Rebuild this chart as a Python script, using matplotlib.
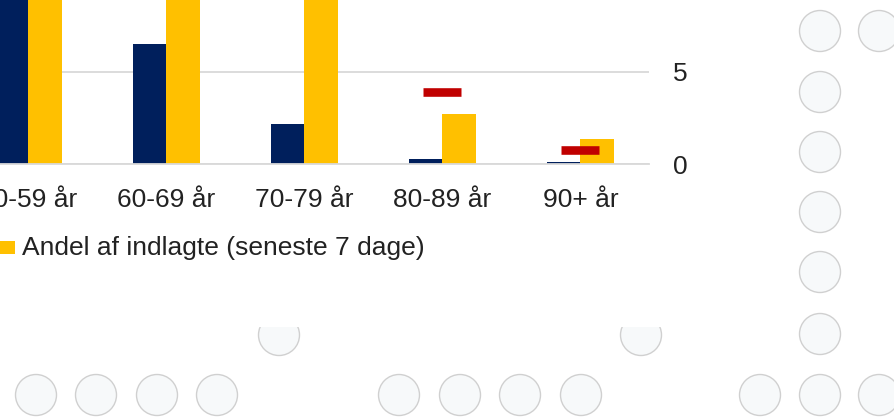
import matplotlib
matplotlib.use("Agg")
import matplotlib.pyplot as plt
from matplotlib.patches import Circle, Rectangle
import numpy as np

plt.rcParams['font.family'] = ['Liberation Sans', 'DejaVu Sans']

# data (visible part of the chart)
aldersgrupper = ['50-59 år', '60-69 år', '70-79 år', '80-89 år', '90+ år']
andel_smittede = [15.0, 6.5, 2.15, 0.3, 0.12]   # navy
andel_indlagte = [12.0, 13.0, 16.0, 2.7, 1.35]  # yellow
andel_befolkning = [13.5, 11.0, 9.5, 3.9, 0.75]  # red dash
y_ticks = [0, 5]
legend_label = 'Andel af indlagte (seneste 7 dage)'

navy = '#001F5C'
yellow = '#FFC000'
red = '#C00000'
grid_col = '#D9D9D9'
text_col = '#222222'

W, H = 895, 418
fig = plt.figure(figsize=(W / 100, H / 100), dpi=100)

# decorative circles (pixel positions, top-left origin)
bg = fig.add_axes([0, 0, 1, 1], zorder=0)
bg.set_xlim(0, W)
bg.set_ylim(H, 0)
bg.axis('off')
circle_pos = [(820, 31), (879, 31), (820, 92), (820, 152), (820, 212), (820, 272),
              (820, 334), (760, 395), (820, 395), (879, 395),
              (36, 395), (96, 395), (157, 395), (217, 395),
              (399, 395), (460, 395), (520, 395), (581, 395)]
for cx, cy in circle_pos:
    bg.add_patch(Circle((cx, cy), 20.5, facecolor='#F7F9FA', edgecolor='#D0D0D0', lw=1))
clip = Rectangle((0, 327), W, H - 327, transform=bg.transData)
for cx, cy in [(279, 335), (641, 335)]:
    c = Circle((cx, cy), 20.5, facecolor='#F7F9FA', edgecolor='#D0D0D0', lw=1)
    bg.add_patch(c)
    c.set_clip_path(clip)

# main axes, placed so that the picture is a crop of a larger chart
px_unit_x = 138
px_unit_y = 18.52
x_left = 28.5 - 0.5 * px_unit_x
x_right = 28.5 + 4.5 * px_unit_x
y0 = H - 164.3
ymax = 20
ax = fig.add_axes([x_left / W, y0 / H, (x_right - x_left) / W, ymax * px_unit_y / H], zorder=1)
ax.set_facecolor('none')

x = np.arange(len(aldersgrupper))
bw = 0.24
ax.bar(x - bw / 2, andel_smittede, bw, color=navy, zorder=2)
ax.bar(x + bw / 2, andel_indlagte, bw, color=yellow, zorder=2)
ax.plot(x, andel_befolkning, linestyle='none', marker='_', markersize=27.5,
        markeredgewidth=6.2, color=red, zorder=3)

ax.set_xlim(-0.5, 4.5)
ax.set_ylim(0, ymax)
ax.set_xticks(x)
ax.set_xticklabels(aldersgrupper)
ax.set_yticks(y_ticks)
ax.yaxis.tick_right()
ax.grid(axis='y', color=grid_col, lw=1.3, zorder=0)
ax.set_axisbelow(True)
for s in ['top', 'left', 'right']:
    ax.spines[s].set_visible(False)
ax.spines['bottom'].set_color(grid_col)
ax.spines['bottom'].set_linewidth(1.3)
ax.tick_params(axis='both', length=0, labelsize=19, labelcolor=text_col)
ax.tick_params(axis='x', pad=17)
ax.tick_params(axis='y', pad=17)

# legend entry
fig.patches.append(Rectangle((0, (H - 254) / H), 15 / W, 13 / H, transform=fig.transFigure,
                             facecolor=yellow, edgecolor='none'))
fig.text(22 / W, (H - 255) / H, legend_label, fontsize=19, color=text_col, va='baseline')

fig.savefig('out.png', dpi=100)
